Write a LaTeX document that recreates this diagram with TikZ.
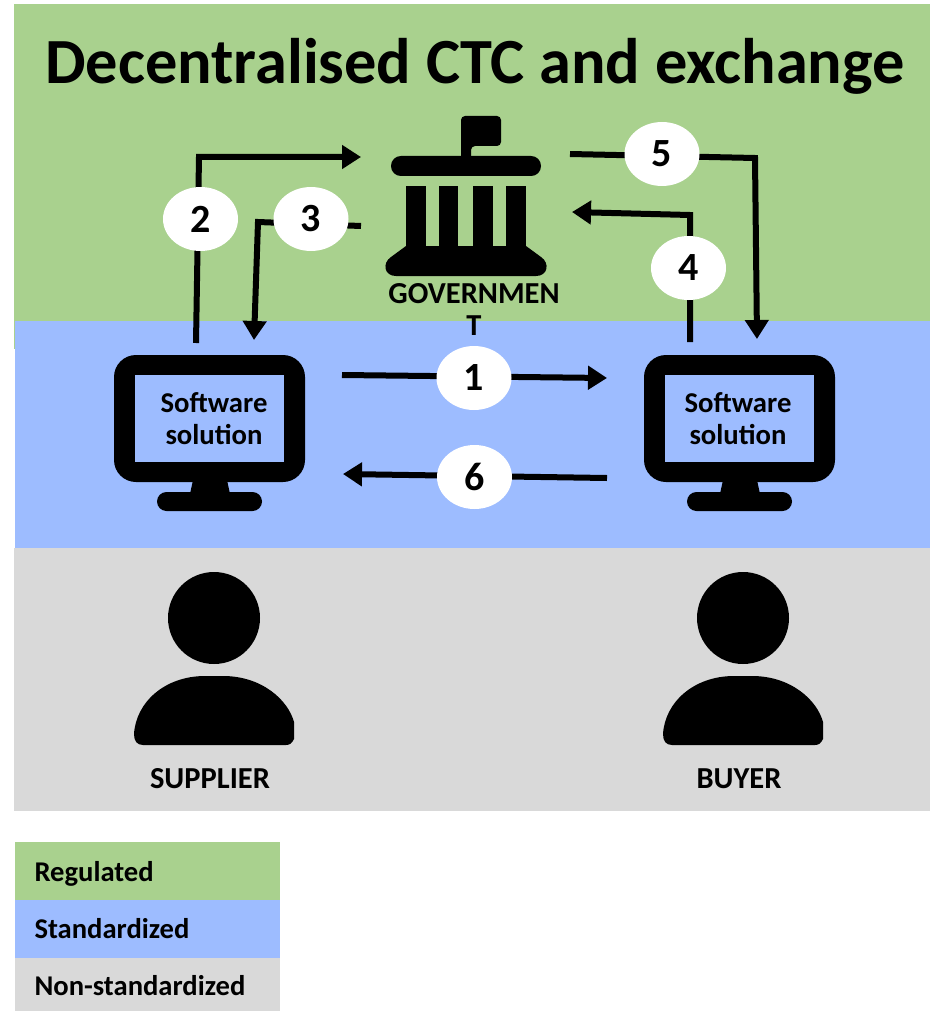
\documentclass[tikz,border=0pt]{standalone}
\usepackage{fontspec}
\setmainfont{Carlito}
\usetikzlibrary{arrows.meta,shapes.geometric}
\definecolor{regulatedgreen}{HTML}{A9D18E}
\definecolor{standardblue}{HTML}{9DBCFF}
\definecolor{nonstdgray}{HTML}{D9D9D9}
\tikzset{
	flow/.style={line width=6pt,-{Triangle[length=19pt,width=23pt]}},
	stepnum/.style={ellipse,fill=white,minimum width=75pt,minimum height=64pt,inner sep=0pt,font=\fontsize{40}{40}\selectfont\bfseries},
	iconlabel/.style={font=\fontsize{28.7}{32}\selectfont\bfseries,align=center},
	capslabel/.style={font=\fontsize{30.5}{32}\selectfont\bfseries,align=center},
	legendlabel/.style={anchor=west,font=\fontsize{28.6}{32}\selectfont\bfseries}
}
\begin{document}
\begin{tikzpicture}[x=1pt,y=-1pt]
	\useasboundingbox (0,0) rectangle (930,1011);
	% bands
	\fill [regulatedgreen] (14,4) rectangle (930,349);
	\fill [standardblue] (15,321) rectangle (930,548);
	\fill [nonstdgray] (14,548) rectangle (930,811);
	\node (title) at (475,66) {\fontsize{64.4}{64}\selectfont\bfseries Decentralised CTC and exchange};

	% government
	\fill [rounded corners=4pt] (461,116) -- (501,116) -- (501,146) -- (471,146) -- (471,160) -- (461,160) -- cycle;
	\fill [rounded corners=9.9pt] (391,156) rectangle (541,176);
	\fill (406,186) rectangle (426,250);
	\fill (439,186) rectangle (458,250);
	\fill (473,186) rectangle (493,250);
	\fill (506,186) rectangle (526,250);
	\fill (406,246) -- (526,246) -- (541,257) .. controls (550,263) and (548,276) .. (536,276) -- (396,276) .. controls (384,276) and (382,263) .. (391,257) -- cycle;
	\node [capslabel] (gov) at (474,309) {GOVERNMEN\\T};

	% monitors
	\fill [rounded corners=22pt] (114,355) rectangle (305,482);
	\fill [standardblue] (135,375) rectangle (284,462);
	\fill (193,480) -- (227,480) -- (230,494) -- (190,494) -- cycle;
	\fill [rounded corners=9.5pt] (157,492) rectangle (262,511);
	\node [iconlabel] (swsupplier) at (214,419) {Software\\solution};

	\fill [rounded corners=22pt] (644,355) rectangle (835,482);
	\fill [standardblue] (665,375) rectangle (814,462);
	\fill (723,480) -- (757,480) -- (760,494) -- (720,494) -- cycle;
	\fill [rounded corners=9.5pt] (687,492) rectangle (792,511);
	\node [iconlabel] (swbuyer) at (738,419) {Software\\solution};

	% people
	\fill (214,618) circle (46);
	\fill (143,745) .. controls (137,745) and (134,741) .. (134,734) .. controls (136,702) and (165,676) .. (205,676) -- (223,676) .. controls (262,676) and (288,700) .. (294,722) -- (294,739) .. controls (292,743) and (290,745) .. (286,745) -- cycle;
	\node [capslabel] (supplier) at (210,779) {SUPPLIER};

	\fill (743,618) circle (46);
	\fill (672,745) .. controls (666,745) and (663,741) .. (663,734) .. controls (665,702) and (694,676) .. (734,676) -- (752,676) .. controls (791,676) and (817,700) .. (823,722) -- (823,739) .. controls (821,743) and (819,745) .. (815,745) -- cycle;
	\node [capslabel] (buyer) at (739,779) {BUYER};

	% arrow ends
	\coordinate (a1s) at (342,375);
	\coordinate (a1e) at (607,378);
	\coordinate (a2s) at (196,343);
	\coordinate (a2m) at (199,157);
	\coordinate (a2e) at (361,157);
	\coordinate (a3s) at (361,226);
	\coordinate (a3m) at (258,222);
	\coordinate (a3e) at (254,340);
	\coordinate (a4s) at (690,342);
	\coordinate (a4m) at (690,215);
	\coordinate (a4e) at (572,212);
	\coordinate (a5s) at (570,154);
	\coordinate (a5m) at (755,158);
	\coordinate (a5e) at (757,339);
	\coordinate (a6s) at (607,478);
	\coordinate (a6e) at (343,474);
	\draw [flow] (a1s) -- (a1e);
	\draw [flow] (a2s) -- (a2m) -- (a2e);
	\draw [flow] (a3s) -- (a3m) -- (a3e);
	\draw [flow] (a4s) -- (a4m) -- (a4e);
	\draw [flow] (a5s) -- (a5m) -- (a5e);
	\draw [flow] (a6s) -- (a6e);
	\node [stepnum] (n1) at (474,378) {1};
	\node [stepnum] (n2) at (200.5,219) {2};
	\node [stepnum] (n3) at (311,219) {3};
	\node [stepnum] (n4) at (688.5,268) {4};
	\node [stepnum] (n5) at (662,154) {5};
	\node [stepnum] (n6) at (474.5,477) {6};

	% legend
	\fill [regulatedgreen] (15,842) rectangle (280,900);
	\fill [standardblue] (15,900) rectangle (280,958);
	\fill [nonstdgray] (15,958) rectangle (280,1011);
	\node [legendlabel] (regulated) at (31,874) {Regulated};
	\node [legendlabel] (standardized) at (31,929) {Standardized};
	\node [legendlabel] (nonstd) at (31,986) {Non-standardized};
\end{tikzpicture}
\end{document}
